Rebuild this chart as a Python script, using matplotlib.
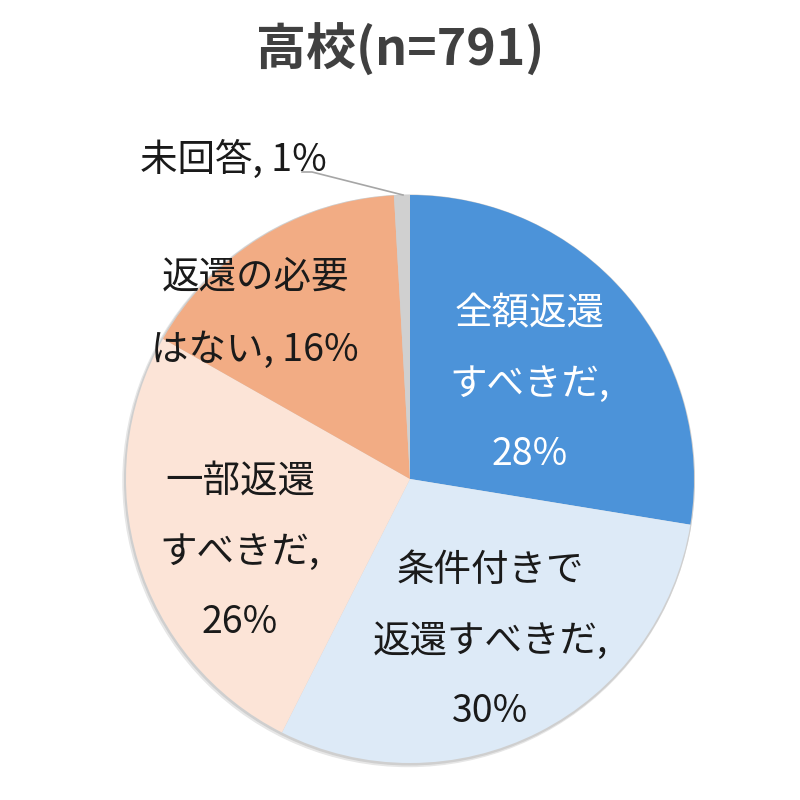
import matplotlib
matplotlib.use("Agg")
import matplotlib.pyplot as plt
from matplotlib.patches import Circle

plt.rcParams['font.family'] = ['Noto Sans CJK JP', 'DejaVu Sans']

title = "高校(n=791)"
categories = ["全額返還\nすべきだ", "条件付きで\n返還すべきだ", "一部返還\nすべきだ",
              "返還の必要\nはない", "未回答"]
values = [27.6, 29.9, 25.8, 15.9, 0.9]
pct_labels = ["28%", "30%", "26%", "16%", "1%"]
colors = ["#4C93D9", "#DDEAF7", "#FCE4D7", "#F2AC84", "#D0D0D0"]
text_colors = ["white", "#1a1a1a", "#1a1a1a", "#1a1a1a", "#1a1a1a"]

fig = plt.figure(figsize=(8, 8), dpi=100)
ax = fig.add_axes([0, 0, 1, 1])

cx, cy, R = 410, 321, 284

# soft shadow
ax.add_patch(Circle((cx - 1.5, cy - 2), R + 1.5, color="#e6e6e6", zorder=0))
ax.add_patch(Circle((cx - 0.5, cy - 1), R + 0.8, color="#cfcfcf", zorder=0.5))

wedges, _ = ax.pie(values, colors=colors, startangle=90, counterclock=False,
                   center=(cx, cy), radius=R, frame=True,
                   wedgeprops=dict(linewidth=0))
ax.set_xlim(0, 800)
ax.set_ylim(0, 800)
ax.set_aspect('equal')
ax.axis('off')

fs = 27
label_pos = [(530, 800 - 384), (490, 800 - 641), (240, 800 - 552), (255, 800 - 314)]
spacing = [2.05, 2.05, 2.05, 2.15]
for i in range(4):
    name = categories[i]
    if i == 3:
        txt = name + ", " + pct_labels[i]
    else:
        txt = name + ",\n" + pct_labels[i]
    ax.text(label_pos[i][0], label_pos[i][1], txt, ha='center', va='center',
            fontsize=fs, color=text_colors[i], linespacing=spacing[i])

# 未回答 label with leader line
ax.text(233, 800 - 160, categories[4] + ", " + pct_labels[4], ha='center', va='center',
        fontsize=fs, color=text_colors[4])
ax.plot([302, 312, 403], [800 - 172, 800 - 172, 800 - 195], color="#a6a6a6", lw=1.2)

fig.text(0.5, 1 - 50 / 800, title, ha='center', va='center', fontsize=36,
         fontweight='bold', color="#404040")

fig.savefig("out.png", dpi=100, facecolor="white")
